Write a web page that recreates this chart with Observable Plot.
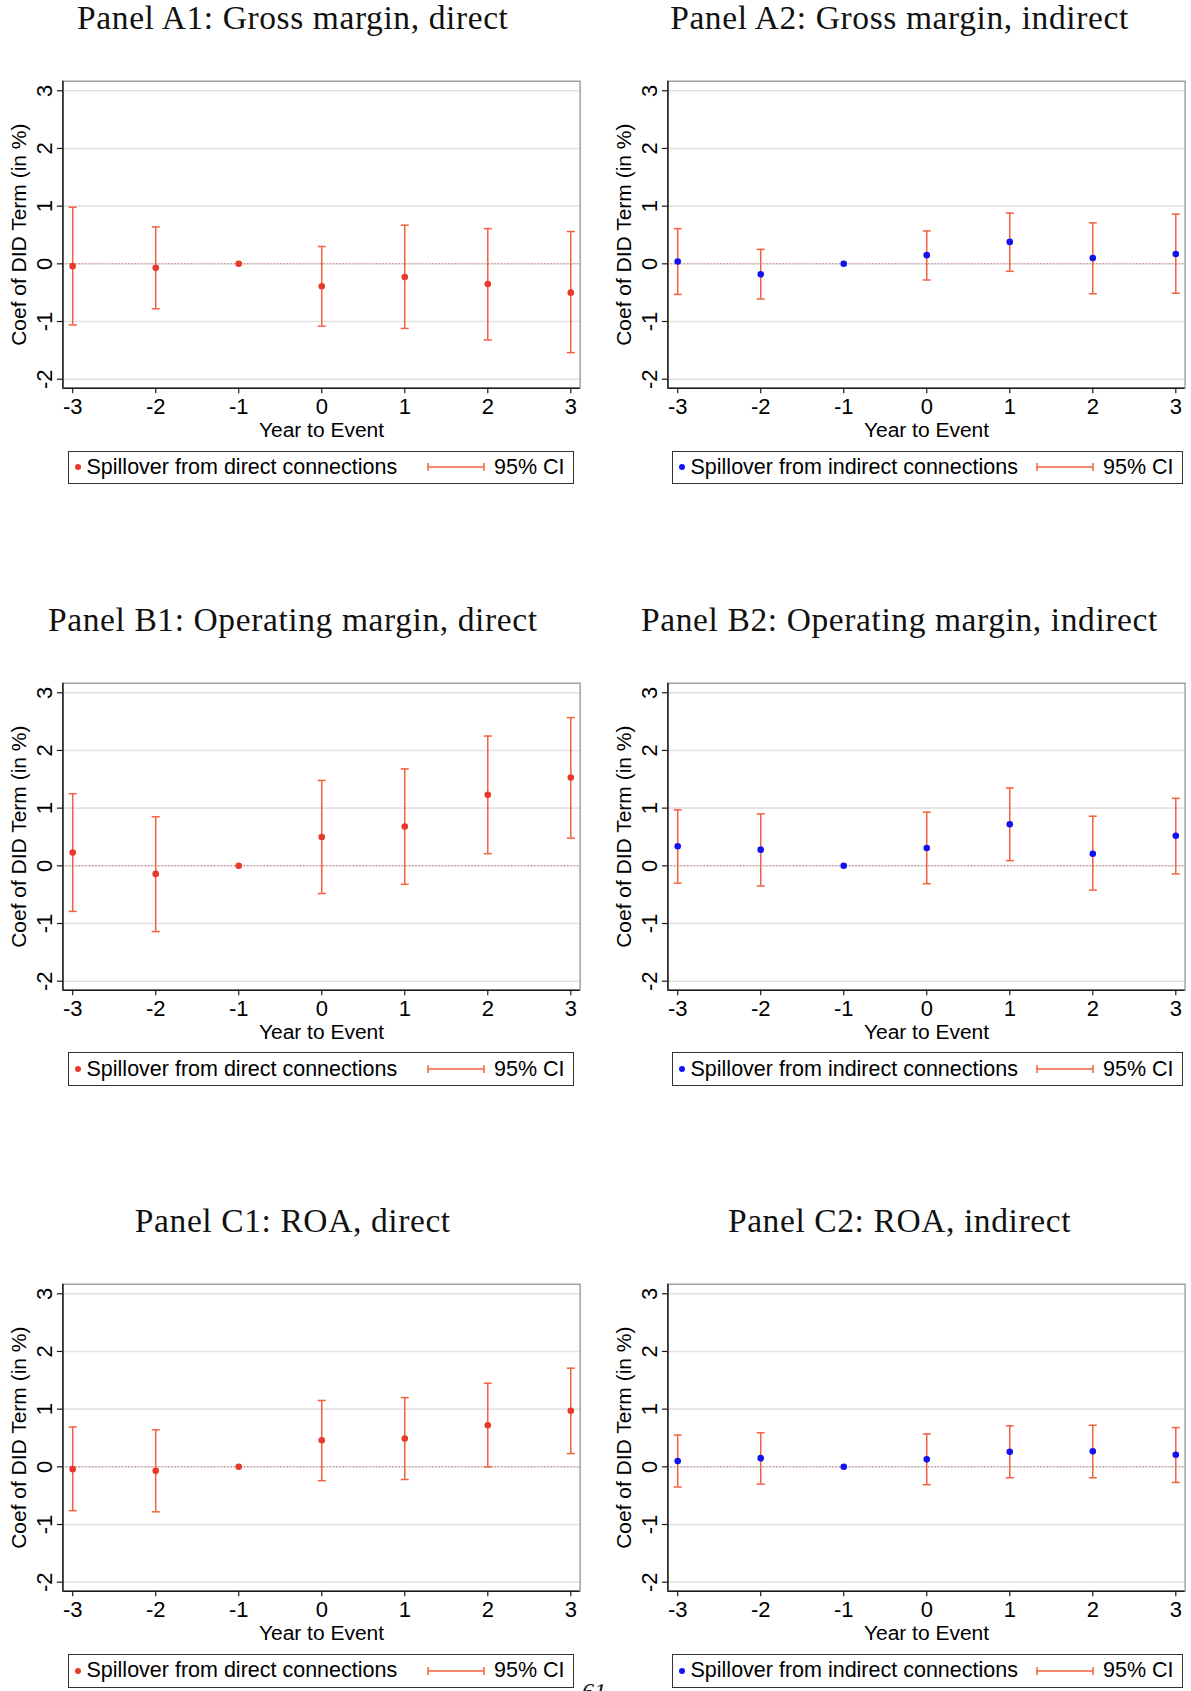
<!DOCTYPE html>
<html>
<head>
<meta charset="utf-8">
<script src="https://cdn.jsdelivr.net/npm/d3@7"></script>
<script src="https://cdn.jsdelivr.net/npm/@observablehq/plot@0.6"></script>
<style>
  html, body { margin: 0; padding: 0; background: #fff; }
  body { width: 1191px; height: 1691px; position: relative; overflow: hidden; }
  .title { position: absolute; width: 640px; text-align: center; font-family: "Liberation Serif", "Times New Roman", serif; font-size: 33.5px; line-height: 33px; letter-spacing: 0.6px; color: #111; white-space: nowrap; }
  .chart { position: absolute; }
  .legend { position: absolute; box-sizing: border-box; height: 33.5px; border: 1.2px solid #333; display: flex; align-items: center; font-family: "Liberation Sans", Arial, Helvetica, sans-serif; font-size: 21.5px; color: #000; white-space: nowrap; padding-right: 8.5px; }
  .legend .dot { width: 6px; height: 6px; border-radius: 50%; margin-left: 5.5px; margin-right: 6px; flex: none; }
  .legend .ci { margin-left: auto; margin-right: 8.5px; flex: none; }
  .page { position: absolute; left: 582px; top: 1679px; font-family: "Liberation Serif", serif; font-size: 24px; line-height: 24px; font-style: italic; color: #111; }
</style>
</head>
<body>
<script>
// ---- data ----
const years = [-3, -2, -1, 0, 1, 2, 3];
const xTicks = [-3, -2, -1, 0, 1, 2, 3];
const yTicks = [-2, -1, 0, 1, 2, 3];

const panelTitles = [
  "Panel A1: Gross margin, direct", "Panel A2: Gross margin, indirect",
  "Panel B1: Operating margin, direct", "Panel B2: Operating margin, indirect",
  "Panel C1: ROA, direct", "Panel C2: ROA, indirect"
];
const legendLabels = ["Spillover from direct connections", "Spillover from indirect connections"];
const ciLabel = "95% CI";
const xLabel = "Year to Event";
const yLabel = "Coef of DID Term (in %)";

const a1Coef = [-0.04, -0.07, 0, -0.39, -0.23, -0.35, -0.50];
const a1Lo   = [-1.06, -0.78, null, -1.08, -1.12, -1.32, -1.54];
const a1Hi   = [0.98, 0.64, null, 0.30, 0.67, 0.61, 0.56];

const a2Coef = [0.04, -0.18, 0, 0.15, 0.38, 0.10, 0.17];
const a2Lo   = [-0.53, -0.61, null, -0.28, -0.13, -0.52, -0.51];
const a2Hi   = [0.61, 0.25, null, 0.57, 0.88, 0.71, 0.86];

const b1Coef = [0.23, -0.14, 0, 0.50, 0.68, 1.23, 1.53];
const b1Lo   = [-0.79, -1.14, null, -0.48, -0.32, 0.21, 0.48];
const b1Hi   = [1.25, 0.85, null, 1.48, 1.68, 2.25, 2.57];

const b2Coef = [0.34, 0.28, 0, 0.31, 0.72, 0.21, 0.52];
const b2Lo   = [-0.30, -0.35, null, -0.31, 0.09, -0.42, -0.14];
const b2Hi   = [0.97, 0.90, null, 0.93, 1.35, 0.86, 1.17];

const c1Coef = [-0.04, -0.07, 0, 0.46, 0.49, 0.72, 0.97];
const c1Lo   = [-0.76, -0.78, null, -0.24, -0.22, 0.00, 0.23];
const c1Hi   = [0.69, 0.64, null, 1.15, 1.20, 1.45, 1.71];

const c2Coef = [0.10, 0.15, 0, 0.13, 0.26, 0.27, 0.21];
const c2Lo   = [-0.35, -0.30, null, -0.31, -0.19, -0.19, -0.27];
const c2Hi   = [0.55, 0.59, null, 0.57, 0.71, 0.72, 0.68];

// ---- styling ----
const directColor = "#e8392c";
const indirectColor = "#1212f0";
const ciColor = "#f2603f";
const xDomain = [-3.118, 3.112];
const yDomain = [-2.156, 3.166];

const panels = [
  {title: panelTitles[0], coef: a1Coef, lo: a1Lo, hi: a1Hi, kind: 0},
  {title: panelTitles[1], coef: a2Coef, lo: a2Lo, hi: a2Hi, kind: 1},
  {title: panelTitles[2], coef: b1Coef, lo: b1Lo, hi: b1Hi, kind: 0},
  {title: panelTitles[3], coef: b2Coef, lo: b2Lo, hi: b2Hi, kind: 1},
  {title: panelTitles[4], coef: c1Coef, lo: c1Lo, hi: c1Hi, kind: 0},
  {title: panelTitles[5], coef: c2Coef, lo: c2Lo, hi: c2Hi, kind: 1}
];

const rowTops = [0, 601.6, 1203.3];
const colSvgLeft = [0, 604.6];
const colTitleCenter = [292.8, 899.5];
const colLegendLeft = [68, 672];
const colLegendWidth = [506, 511];

const capSymbol = {
  draw(context, size) {
    const w = Math.sqrt(size / Math.PI);
    context.moveTo(-w, 0);
    context.lineTo(w, 0);
  }
};

const sansFont = '"Liberation Sans", Arial, Helvetica, sans-serif';

panels.forEach((p, i) => {
  const row = Math.floor(i / 2), col = i % 2;
  const top = rowTops[row];
  const dotColor = p.kind === 0 ? directColor : indirectColor;

  // title
  const t = document.createElement("div");
  t.className = "title";
  t.style.left = (colTitleCenter[col] - 320) + "px";
  t.style.top = (top + 1) + "px";
  t.textContent = p.title;
  document.body.appendChild(t);

  const data = years.map((y, k) => ({t: y, coef: p.coef[k], lo: p.lo[k], hi: p.hi[k]}));
  const ciData = data.filter(d => d.lo != null && d.hi != null);

  const chart = Plot.plot({
    width: 590,
    height: 387.7,
    marginLeft: 62.4,
    marginRight: 10.4,
    marginTop: 20.7,
    marginBottom: 60,
    style: {fontFamily: sansFont, background: "transparent", color: "#000"},
    x: {domain: xDomain},
    y: {domain: yDomain},
    marks: [
      Plot.gridY(yTicks, {stroke: "#e2e2e2", strokeOpacity: 1, strokeWidth: 1.6}),
      Plot.ruleY([0], {stroke: "#c0394f", strokeWidth: 1, strokeDasharray: "1 2.3", strokeOpacity: 0.85}),
      Plot.frame({stroke: "#8a8a8a", strokeWidth: 1.2}),
      Plot.ruleX([xDomain[0]], {stroke: "#1a1a1a", strokeWidth: 1.5}),
      Plot.ruleY([yDomain[0]], {stroke: "#1a1a1a", strokeWidth: 1.5}),
      Plot.axisY(yTicks, {
        tickSize: 5.5, tickPadding: 5, tickRotate: -90,
        tickFormat: d => String(d), fontSize: 22, stroke: "#1a1a1a", strokeWidth: 1.2,
        label: null
      }),
      Plot.axisX(xTicks, {
        tickSize: 5.5, tickPadding: 4.5, tickFormat: d => String(d),
        fontSize: 22, stroke: "#1a1a1a", strokeWidth: 1.2, label: null
      }),
      Plot.text([yLabel], {frameAnchor: "left", dx: -43.4, rotate: -90, textAnchor: "middle", lineAnchor: "middle", fontSize: 21, fill: "#000"}),
      Plot.text([xLabel], {frameAnchor: "bottom", dy: 49, textAnchor: "middle", lineAnchor: "bottom", fontSize: 21, fill: "#000"}),
      Plot.ruleX(ciData, {x: "t", y1: "lo", y2: "hi", stroke: ciColor, strokeWidth: 1.5}),
      Plot.dot(ciData, {x: "t", y: "lo", symbol: capSymbol, r: 4, stroke: ciColor, strokeWidth: 1.5, fill: "none"}),
      Plot.dot(ciData, {x: "t", y: "hi", symbol: capSymbol, r: 4, stroke: ciColor, strokeWidth: 1.5, fill: "none"}),
      Plot.dot(data, {x: "t", y: "coef", r: 3.3, fill: dotColor, stroke: "none"})
    ]
  });
  chart.classList.add("chart");
  chart.style.left = colSvgLeft[col] + "px";
  chart.style.top = (top + 60) + "px";
  chart.style.overflow = "visible";
  document.body.appendChild(chart);

  // legend
  const lg = document.createElement("div");
  lg.className = "legend";
  lg.style.left = colLegendLeft[col] + "px";
  lg.style.top = (top + 450.7) + "px";
  lg.style.width = colLegendWidth[col] + "px";
  const dot = document.createElement("span");
  dot.className = "dot";
  dot.style.background = dotColor;
  lg.appendChild(dot);
  const lab = document.createElement("span");
  lab.textContent = legendLabels[p.kind];
  lg.appendChild(lab);
  const ns = "http://www.w3.org/2000/svg";
  const ci = document.createElementNS(ns, "svg");
  ci.setAttribute("class", "ci");
  ci.setAttribute("width", "58");
  ci.setAttribute("height", "12");
  ci.innerHTML = `<g stroke="${ciColor}" stroke-width="1.5" fill="none">
    <line x1="1" y1="6" x2="57" y2="6"></line>
    <line x1="1" y1="2" x2="1" y2="10"></line>
    <line x1="57" y1="2" x2="57" y2="10"></line></g>`;
  lg.appendChild(ci);
  const ciT = document.createElement("span");
  ciT.textContent = ciLabel;
  lg.appendChild(ciT);
  document.body.appendChild(lg);
});

const pg = document.createElement("div");
pg.className = "page";
pg.textContent = "61";
document.body.appendChild(pg);
</script>
</body>
</html>
